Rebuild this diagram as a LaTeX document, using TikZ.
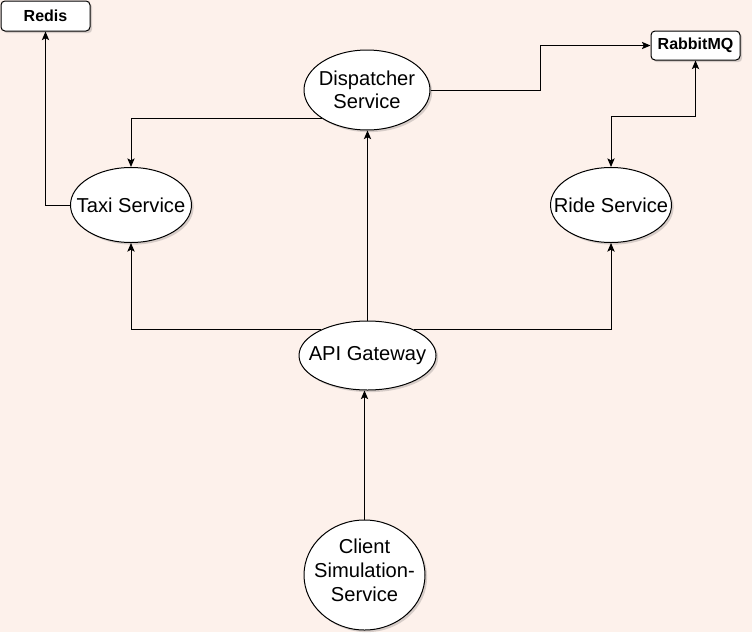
\documentclass[tikz,border=0pt]{standalone}
\usepackage{fontspec}
\setmainfont{Liberation Sans}
\usetikzlibrary{shapes.geometric,shadows,arrows.meta}
\definecolor{bg}{RGB}{253,241,235}
\begin{document}
\begin{tikzpicture}[x=0.75pt,y=-0.75pt,
  shad/.style={drop shadow={shadow xshift=1.6pt,shadow yshift=-1.6pt,opacity=0.22,fill=black!70}},
  ell/.style={ellipse,draw,fill=white,line width=0.75pt,inner sep=0pt,shad},
  lbl/.style={align=center,inner sep=0pt,font=\fontsize{15.1}{17.7}\selectfont},
  box/.style={rectangle,rounded corners=3pt,draw,fill=white,line width=0.75pt,inner sep=0pt,
    font=\fontsize{12}{14}\selectfont\bfseries,shad},
  arr/.style={draw,line width=0.75pt,-{Stealth[length=6.5pt,width=5.5pt,inset=1.5pt]}},
  arrb/.style={draw,line width=0.75pt,{Stealth[length=6.5pt,width=5.5pt,inset=1.5pt]}-{Stealth[length=6.5pt,width=5.5pt,inset=1.5pt]}}
]
\fill[bg] (0,0) rectangle (752,632);
\useasboundingbox (0,0) rectangle (752,632);

\node[box,minimum width=66.75pt,minimum height=22.5pt] (redis) at (45.5,16) {Redis};
\node[box,minimum width=66.75pt,minimum height=21.75pt] (rabbit) at (695.5,45.5) {RabbitMQ};
\node[ell,minimum width=94.5pt,minimum height=60pt,
  label={[lbl]center:Dispatcher\\Service}] (disp) at (367,90) {};
\node[ell,minimum width=90.75pt,minimum height=56.25pt,
  label={[lbl]center:Taxi Service}] (taxi) at (131,205) {};
\node[ell,minimum width=90.75pt,minimum height=56.25pt,
  label={[lbl]center:Ride Service}] (ride) at (611,205) {};
\node[ell,minimum width=102.75pt,minimum height=51.75pt,
  label={[lbl]center:API Gateway}] (api) at (367.5,355.5) {};
\node[ell,minimum width=90.75pt,minimum height=82.5pt,
  label={[lbl,yshift=3.5pt]center:Client\\Simulation-\\Service}] (client) at (364.5,575) {};

\coordinate (m1) at (540,45.5);
\coordinate (m2) at (695.5,116);

\draw[arr] (taxi.west) -| (redis.south);
\draw[arr] (disp.212) -| (taxi.north);
\draw[arr] (disp.east) -| (m1) -- (rabbit.west);
\draw[arrb] (ride.north) |- (m2) -- (rabbit.south);
\draw[arr] (api.north) -- (api.north |- disp.south);
\draw[arr] (api.151) -| (taxi.south);
\draw[arr] (api.29) -| (ride.south);
\draw[arr] (client.north) -- (client.north |- api.south);
\end{tikzpicture}
\end{document}
